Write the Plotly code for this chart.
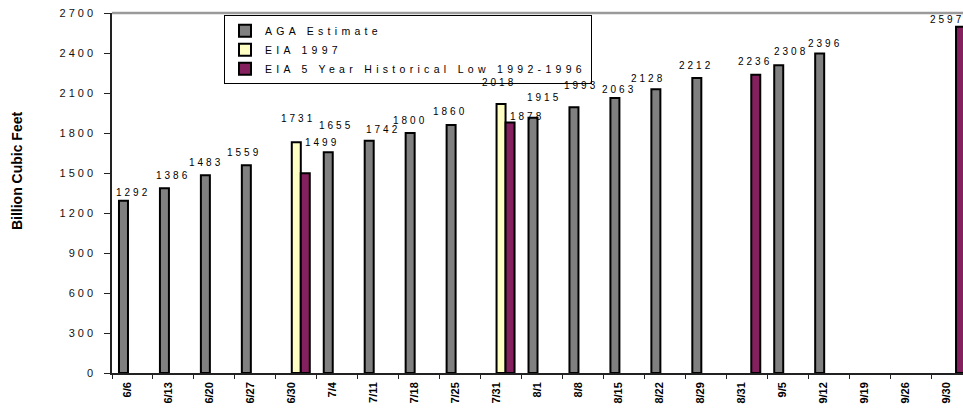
import plotly.graph_objects as go

# ---------------- data ----------------
categories = ["6/6", "6/13", "6/20", "6/27", "6/30", "7/4", "7/11", "7/18", "7/25", "7/31",
              "8/1", "8/8", "8/15", "8/22", "8/29", "8/31", "9/5", "9/12", "9/19", "9/26", "9/30"]
aga_estimate = [1292, 1386, 1483, 1559, None, 1655, 1742, 1800, 1860, None,
                1915, 1993, 2063, 2128, 2212, None, 2308, 2396, None, None, None]
eia_1997 = [None, None, None, None, 1731, None, None, None, None, 2018,
            None, None, None, None, None, None, None, None, None, None, None]
eia_low = [None, None, None, None, 1499, None, None, None, None, 1878,
           None, None, None, None, None, 2236, None, None, None, None, 2597]
series_names = ["AGA Estimate", "EIA 1997", "EIA 5 Year Historical Low 1992-1996"]
y_tick_values = [0, 300, 600, 900, 1200, 1500, 1800, 2100, 2400, 2700]
y_title = "Billion Cubic Feet"

# ---------------- styles ----------------
colors = ["#808080", "#FFFFC4", "#85205F"]
slot_px = [-9, 0, 9]                 # pixel offset of each series slot in a group
label_nudge = {                      # (series index, category) -> (dx, dy) in px
    (0, "6/6"): (8.5, -3), (0, "6/13"): (7, 1), (0, "6/20"): (-1, 1), (0, "6/27"): (-3.5, 1),
    (0, "7/4"): (6, 15.5), (0, "7/11"): (12.5, 0), (0, "7/18"): (-1.5, 1.5),
    (0, "7/25"): (-2.5, 2), (0, "8/1"): (9.5, 9), (0, "8/8"): (6, 10),
    (0, "8/15"): (2.5, -3), (0, "8/22"): (-9.5, -1), (0, "8/29"): (-2, 1.5),
    (0, "9/5"): (11, 2.5), (0, "9/12"): (3.5, -1),
    (1, "6/30"): (0, 12.5), (1, "7/31"): (-3.5, 10),
    (2, "6/30"): (15, 19.5), (2, "7/31"): (15, -5), (2, "8/31"): (-2, 1.5),
    (2, "9/30"): (-15, -4),
}

def spaced(t, px):
    return f'<span style="letter-spacing:{px}px">{t}</span>'

fig = go.Figure()
for i, (name, vals) in enumerate(zip(series_names, [aga_estimate, eia_1997, eia_low])):
    fig.add_trace(go.Bar(
        x=categories, y=vals, name=spaced(name, 4.3),
        marker=dict(color=colors[i], line=dict(color="black", width=2)),
        hoverinfo="x+y",
    ))

annotations = []
for i, vals in enumerate([aga_estimate, eia_1997, eia_low]):
    for c, v in zip(categories, vals):
        if v is None:
            continue
        dx, dy = label_nudge.get((i, c), (0, 0))
        annotations.append(dict(
            x=c, y=v, xref="x", yref="y", text=spaced(v, 3), showarrow=False,
            xanchor="center", yanchor="bottom", xshift=slot_px[i] + dx + 1.5, yshift=4 + dy,
            font=dict(family="Arial", size=10, color="black"),
        ))

annotations.append(dict(
    x=-0.1116, y=0.561, xref="paper", yref="paper", text=y_title, textangle=-90,
    showarrow=False, xanchor="center", yanchor="middle",
    font=dict(family="Arial", size=14, color="black", weight="bold"),
))

n = len(categories)
fig.update_layout(
    width=963, height=409, autosize=False,
    margin=dict(l=112, r=0, t=13, b=36, pad=0),
    paper_bgcolor="white", plot_bgcolor="white",
    barmode="group", bargap=0.341, bargroupgap=0,
    showlegend=True,
    legend=dict(x=0.1316, y=0.994, xanchor="left", yanchor="top",
                bgcolor="white", bordercolor="black", borderwidth=1,
                font=dict(family="Arial", size=10.5, color="black"),
                tracegroupgap=0, traceorder="normal"),
    xaxis=dict(type="category", categoryorder="array", categoryarray=categories,
               range=[-0.5, 20.28], showline=True, linecolor="#222", linewidth=1.5,
               ticks="outside", tickson="boundaries", ticklen=4, tickcolor="#222", tickwidth=1,
               tickangle=-90, ticklabelshift=-5, ticklabelstandoff=3,
               tickfont=dict(family="Arial", size=11, color="black", weight="bold"),
               showgrid=False, zeroline=False, fixedrange=True),
    xaxis2=dict(overlaying="x", anchor="y", type="linear", range=[-0.5, 20.28],
                tickvals=[k - 0.5 for k in range(n + 1)], ticks="inside", ticklen=4,
                tickcolor="#222", showticklabels=False, showline=False, showgrid=False,
                zeroline=False, fixedrange=True),
    yaxis=dict(range=[0, 2700], tickvals=y_tick_values,
               ticktext=[spaced(v, 3) for v in y_tick_values],
               showline=True, linecolor="#222", linewidth=1.5,
               ticks="outside", ticklen=6, tickcolor="#222", ticklabelstandoff=6,
               tickfont=dict(family="Arial", size=11, color="#111"),
               showgrid=False, zeroline=False, fixedrange=True),
    yaxis2=dict(overlaying="y", anchor="x", range=[0, 2700], tickvals=y_tick_values,
                ticks="inside", ticklen=6, tickcolor="#222", showticklabels=False,
                showline=False, showgrid=False, zeroline=False, fixedrange=True),
    annotations=annotations,
    shapes=[dict(type="line", xref="x domain", yref="y domain", x0=0, x1=1, y0=1, y1=1,
                 line=dict(color="#9a9a9a", width=2.5))],
)

fig.write_html("out.html")
